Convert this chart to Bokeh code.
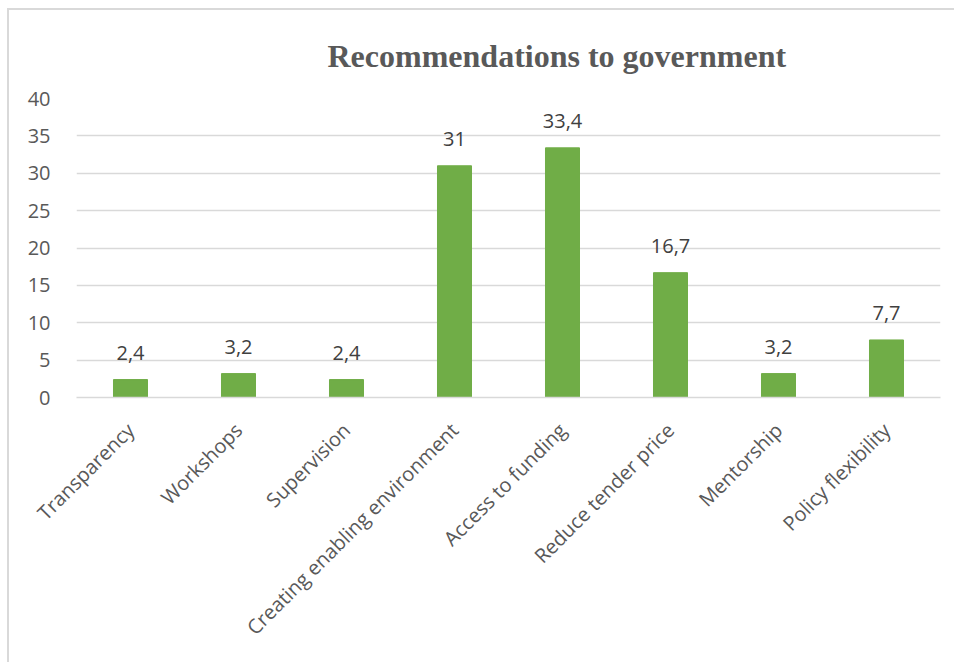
import math
from bokeh.plotting import figure
from bokeh.models import Range1d, FixedTicker, Title, ColumnDataSource
from bokeh.core.properties import value
from bokeh.embed import file_html
from bokeh.resources import INLINE

title_text = "Recommendations to government"
categories = ["Transparency", "Workshops", "Supervision", "Creating enabling environment",
              "Access to funding", "Reduce tender price", "Mentorship", "Policy flexibility"]
values = [2.4, 3.2, 2.4, 31, 33.4, 16.7, 3.2, 7.7]
y_ticks = [0, 5, 10, 15, 20, 25, 30, 35, 40]
labels = [f"{v:g}".replace(".", ",") for v in values]

src = ColumnDataSource(dict(cat=categories, val=values, lab=labels))

FONT = "Open Sans"

p = figure(x_range=categories, y_range=Range1d(0, 40), width=947, height=654,
           output_backend="svg", toolbar_location=None,
           min_border_left=67, min_border_right=16, min_border_top=88, min_border_bottom=267)
p.margin = (8, 0, 0, 7)
p.styles = {"border-left": "2px solid #d9d9d9", "border-top": "2px solid #d9d9d9"}
p.outline_line_color = None
p.background_fill_color = "white"
p.border_fill_color = "white"

p.vbar(x="cat", top="val", width=0.315, source=src, color="#70AD47")
p.text(x="cat", y="val", text="lab", source=src, y_offset=-27,
       text_align="center", text_baseline="alphabetic",
       text_font=value(FONT), text_font_size="20px", text_color="#404040")

p.xgrid.grid_line_color = None
p.ygrid.grid_line_color = "#d9d9d9"
p.ygrid.grid_line_width = 1.5
p.yaxis.ticker = FixedTicker(ticks=y_ticks)
p.yaxis.axis_line_color = None
p.yaxis.major_tick_line_color = None
p.yaxis.minor_tick_line_color = None
p.yaxis.major_label_standoff = 20
p.yaxis.major_label_text_font = FONT
p.yaxis.major_label_text_font_size = "20px"
p.yaxis.major_label_text_color = "#595959"

p.xaxis.axis_line_color = "#d9d9d9"
p.xaxis.axis_line_width = 1.5
p.xaxis.major_tick_line_color = None
p.xaxis.minor_tick_line_color = None
p.xaxis.major_label_orientation = math.pi / 4
p.xaxis.major_label_standoff = 23
p.xaxis.major_label_text_font = FONT
p.xaxis.major_label_text_font_size = "20px"
p.xaxis.major_label_text_color = "#595959"
p.x_range.range_padding = 0

p.title = Title(text=title_text, align="left", offset=251,
                text_font="Liberation Serif", text_font_style="bold",
                text_font_size="32px", text_color="#595959", standoff=50)

open("out.html", "w").write(file_html(p, INLINE))
